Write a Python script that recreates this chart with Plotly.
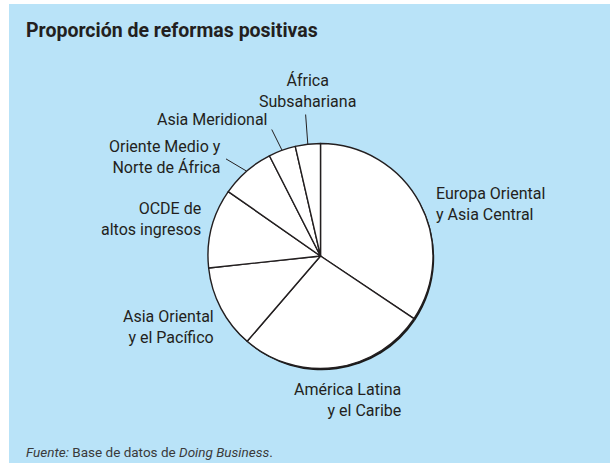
import math
import plotly.graph_objects as go

# ---- data (share of positive reforms, %) ----
regions = [
    "Europa Oriental<br>y Asia Central",
    "América Latina<br>y el Caribe",
    "Asia Oriental<br>y el Pacífico",
    "OCDE de<br>altos ingresos",
    "Oriente Medio y<br>Norte de África",
    "Asia Meridional",
    "África<br>Subsahariana",
]
shares = [34.4, 26.9, 12.0, 11.4, 7.8, 3.9, 3.6]

title_text = "Proporción de reformas positivas"
source_text = "<i>Fuente:</i> Base de datos de <i>Doing Business</i>."

# ---- layout constants ----
W, H = 610, 463
BG = "#B9E3F8"
TXT = "#231F20"
FONT = "Roboto, sans-serif"
CX, CY, R = 320.5, 256.0, 112.5

def px(x):
    return x / W

def py(y):
    return 1 - y / H

fig = go.Figure()

# shadow pie (offset, drawn beneath)
sx, sy = 1.2, 1.8
fig.add_trace(go.Pie(
    values=shares, labels=regions, sort=False, direction="clockwise", rotation=0,
    marker=dict(colors=["#1a1a1a"] * len(shares), line=dict(width=0)),
    textinfo="none", hoverinfo="skip", showlegend=False,
    domain=dict(x=[px(CX - R + sx), px(CX + R + sx)], y=[py(CY + R + sy), py(CY - R + sy)]),
))
# main pie
fig.add_trace(go.Pie(
    values=shares, labels=regions, sort=False, direction="clockwise", rotation=0,
    marker=dict(colors=["white"] * len(shares), line=dict(color=TXT, width=1.4)),
    textinfo="none", showlegend=False,
    domain=dict(x=[px(CX - R), px(CX + R)], y=[py(CY + R), py(CY - R)]),
))

# label placement (pixel positions of text anchors)
label_pos = [
    dict(x=434, y=203.5, xanchor="left", align="left"),
    dict(x=403, y=400, xanchor="right", align="right"),
    dict(x=216, y=327, xanchor="right", align="right"),
    dict(x=203, y=219, xanchor="right", align="right"),
    dict(x=223, y=157.5, xanchor="right", align="right"),
    dict(x=270, y=119, xanchor="right", align="right"),
    dict(x=307, y=91, xanchor="center", align="center"),
]
# leader line ends (label side), by slice index
leader_end = {4: (224.5, 158), 5: (271, 128), 6: (305.5, 113)}

annotations = []
total = sum(shares)
cum = 0.0
for i, (lab, v) in enumerate(zip(regions, shares)):
    mid = (cum + v / 2) / total * 2 * math.pi
    cum += v
    p = label_pos[i]
    annotations.append(dict(
        x=px(p["x"]), y=py(p["y"]), xref="paper", yref="paper",
        xanchor=p["xanchor"], yanchor="middle", align=p["align"],
        text=lab, showarrow=False, font=dict(family=FONT, size=16, color=TXT),
    ))
    if i in leader_end:
        ex = CX + R * math.sin(mid)
        ey = CY - R * math.cos(mid)
        lx, ly = leader_end[i]
        annotations.append(dict(
            x=px(ex), y=py(ey), xref="paper", yref="paper",
            ax=lx - ex, ay=ly - ey, text="", showarrow=True,
            arrowhead=0, arrowwidth=1, arrowcolor=TXT, standoff=0, startstandoff=0,
        ))

annotations.append(dict(
    x=px(24), y=py(30), xref="paper", yref="paper", xanchor="left", yanchor="middle",
    text="<b>" + title_text + "</b>", showarrow=False,
    font=dict(family=FONT, size=19.5, color=TXT),
))
annotations.append(dict(
    x=px(24), y=py(452), xref="paper", yref="paper", xanchor="left", yanchor="middle",
    text=source_text, showarrow=False,
    font=dict(family=FONT, size=13.5, color="#3a3a3a"),
))

fig.update_layout(
    width=W, height=H, margin=dict(l=0, r=0, t=0, b=0),
    paper_bgcolor="white", plot_bgcolor="white",
    shapes=[dict(type="rect", xref="paper", yref="paper", x0=px(9), x1=1, y0=0, y1=py(4),
                 fillcolor=BG, line=dict(width=0), layer="below")],
    annotations=annotations,
)

fig.write_html(
    "out.html",
    config={"displayModeBar": False},
    post_script="document.body.style.margin='0px';document.body.style.overflow='hidden';",
)
